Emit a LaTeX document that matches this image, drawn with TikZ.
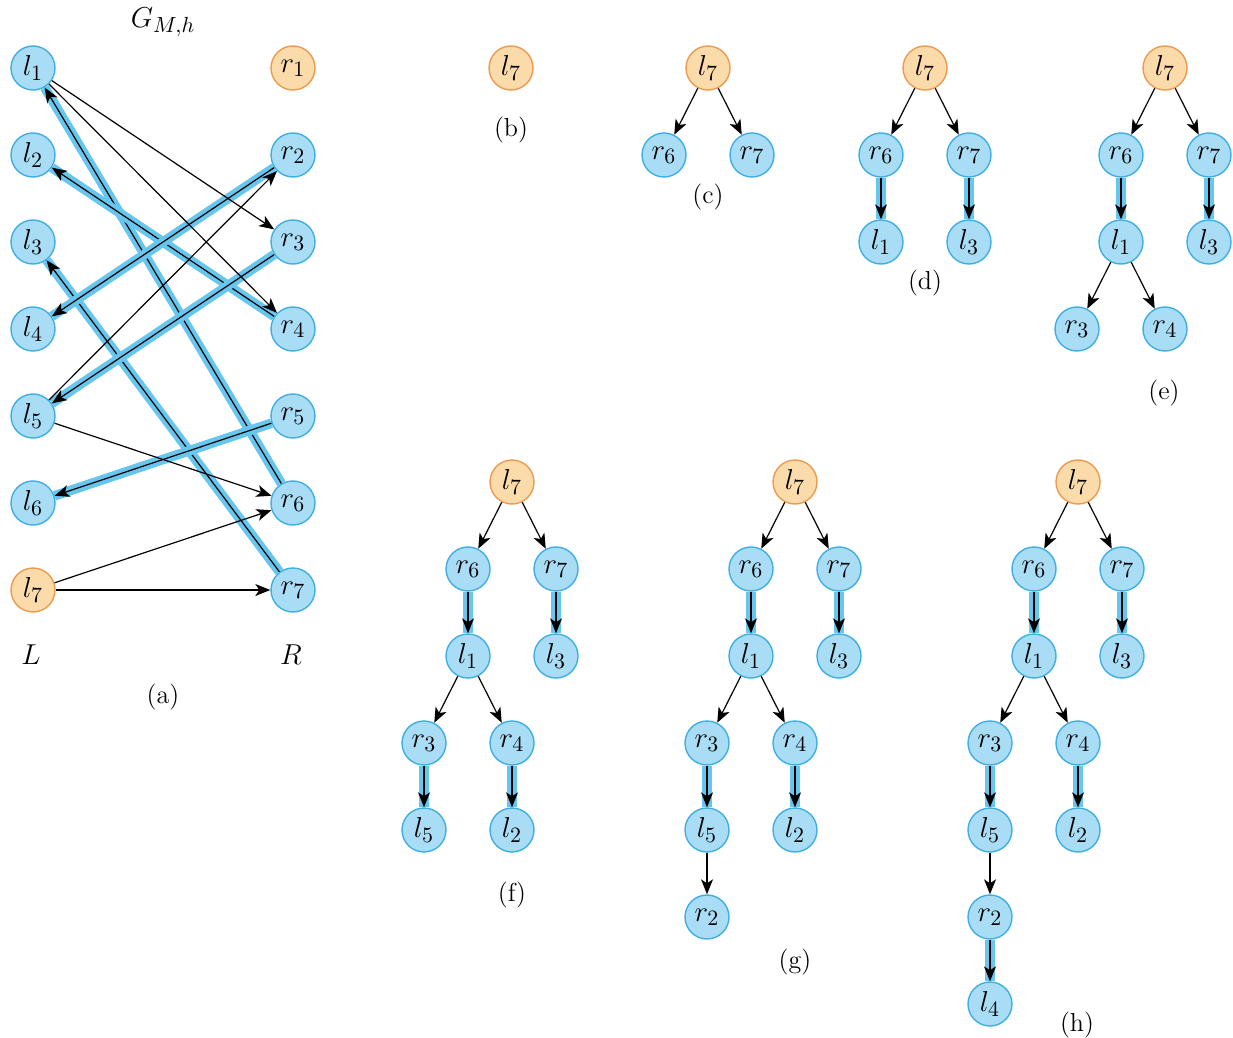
\documentclass[tikz,border=0pt]{standalone}
\usetikzlibrary{arrows.meta, positioning}
\definecolor{cbluefill}{HTML}{A9DDF5}
\definecolor{cblueline}{HTML}{3FAEE2}
\definecolor{cband}{HTML}{66C6EE}
\definecolor{corangefill}{HTML}{FCDBAA}
\definecolor{corangeline}{HTML}{EC9A50}
\tikzset{
  every picture/.style={x=0.5pt, y=-0.5pt},
  vtx/.style={circle, draw=cblueline, fill=cbluefill, line width=0.7pt, minimum size=22pt, inner sep=0pt, font=\fontsize{15}{17}\selectfont},
  root/.style={vtx, draw=corangeline, fill=corangefill},
  arrow/.style={-{Stealth[length=7.5pt, width=6pt, inset=2pt]}, line width=0.6pt},
  matched/.style={arrow, preaction={draw=cband, line width=4.8pt, -}},
  caption/.style={font=\fontsize{13}{15}\selectfont},
}
\begin{document}
\begin{tikzpicture}[node distance=43.5pt and 22pt, on grid]
  \useasboundingbox (0,0) rectangle (1233,1038);
  % (a) the graph G_{M,h}
  \node[font=\fontsize{15}{17}\selectfont] (title) at (163,22) {$G_{M,h}$};
  \foreach \i in {1,...,6} \node[vtx] (l\i) at (33,{68+87*(\i-1)}) {$l_\i$};
  \node[root] (l7) at (33,590) {$l_7$};
  \node[root] (r1) at (293,68) {$r_1$};
  \foreach \i in {2,...,7} \node[vtx] (r\i) at (293,{68+87*(\i-1)}) {$r_\i$};
  \node[font=\fontsize{15}{17}\selectfont] (lL) at (31,655) {$L$};
  \node[font=\fontsize{15}{17}\selectfont] (lR) at (291,655) {$R$};
  \node[caption] (capa) at (163,697) {(a)};
  \draw[matched] (r6) -- (l1);
  \draw[matched] (r4) -- (l2);
  \draw[matched] (r7) -- (l3);
  \draw[matched] (r2) -- (l4);
  \draw[matched] (r3) -- (l5);
  \draw[matched] (r5) -- (l6);
  \draw[arrow] (l1) -- (r3); \draw[arrow] (l1) -- (r4);
  \draw[arrow] (l5) -- (r2); \draw[arrow] (l5) -- (r6);
  \draw[arrow] (l7) -- (r6); \draw[arrow] (l7) -- (r7);

  % (b)
  \node[root] (b7) at (511,68) {$l_7$};
  \node[caption] (capb) at (511,130) {(b)};

  % (c)
  \node[root] (c7) at (708,68) {$l_7$};
  \node[vtx, below left=of c7] (cr6) {$r_6$};
  \node[vtx, below right=of c7] (cr7) {$r_7$};
  \draw[arrow] (c7) -- (cr6); \draw[arrow] (c7) -- (cr7);
  \node[caption] (capc) at (708,197) {(c)};

  % (d)
  \node[root] (d7) at (925,68) {$l_7$};
  \node[vtx, below left=of d7] (dr6) {$r_6$};
  \node[vtx, below right=of d7] (dr7) {$r_7$};
  \node[vtx, below=of dr6] (dl1) {$l_1$};
  \node[vtx, below=of dr7] (dl3) {$l_3$};
  \draw[arrow] (d7) -- (dr6); \draw[arrow] (d7) -- (dr7);
  \draw[matched] (dr6) -- (dl1); \draw[matched] (dr7) -- (dl3);
  \node[caption] (capd) at (925,283) {(d)};

  % (e)
  \node[root] (e7) at (1165,68) {$l_7$};
  \node[vtx, below left=of e7] (er6) {$r_6$};
  \node[vtx, below right=of e7] (er7) {$r_7$};
  \node[vtx, below=of er6] (el1) {$l_1$};
  \node[vtx, below=of er7] (el3) {$l_3$};
  \node[vtx, below left=of el1] (er3) {$r_3$};
  \node[vtx, below right=of el1] (er4) {$r_4$};
  \draw[arrow] (e7) -- (er6); \draw[arrow] (e7) -- (er7);
  \draw[matched] (er6) -- (el1); \draw[matched] (er7) -- (el3);
  \draw[arrow] (el1) -- (er3); \draw[arrow] (el1) -- (er4);
  \node[caption] (cape) at (1164,393) {(e)};

  % (f)
  \node[root] (f7) at (512,482) {$l_7$};
  \node[vtx, below left=of f7] (fr6) {$r_6$};
  \node[vtx, below right=of f7] (fr7) {$r_7$};
  \node[vtx, below=of fr6] (fl1) {$l_1$};
  \node[vtx, below=of fr7] (fl3) {$l_3$};
  \node[vtx, below left=of fl1] (fr3) {$r_3$};
  \node[vtx, below right=of fl1] (fr4) {$r_4$};
  \node[vtx, below=of fr3] (fl5) {$l_5$};
  \node[vtx, below=of fr4] (fl2) {$l_2$};
  \draw[arrow] (f7) -- (fr6); \draw[arrow] (f7) -- (fr7);
  \draw[matched] (fr6) -- (fl1); \draw[matched] (fr7) -- (fl3);
  \draw[arrow] (fl1) -- (fr3); \draw[arrow] (fl1) -- (fr4);
  \draw[matched] (fr3) -- (fl5); \draw[matched] (fr4) -- (fl2);
  \node[caption] (capf) at (512,895) {(f)};

  % (g)
  \node[root] (g7) at (795,482) {$l_7$};
  \node[vtx, below left=of g7] (gr6) {$r_6$};
  \node[vtx, below right=of g7] (gr7) {$r_7$};
  \node[vtx, below=of gr6] (gl1) {$l_1$};
  \node[vtx, below=of gr7] (gl3) {$l_3$};
  \node[vtx, below left=of gl1] (gr3) {$r_3$};
  \node[vtx, below right=of gl1] (gr4) {$r_4$};
  \node[vtx, below=of gr3] (gl5) {$l_5$};
  \node[vtx, below=of gr4] (gl2) {$l_2$};
  \node[vtx, below=of gl5] (gr2) {$r_2$};
  \draw[arrow] (g7) -- (gr6); \draw[arrow] (g7) -- (gr7);
  \draw[matched] (gr6) -- (gl1); \draw[matched] (gr7) -- (gl3);
  \draw[arrow] (gl1) -- (gr3); \draw[arrow] (gl1) -- (gr4);
  \draw[matched] (gr3) -- (gl5); \draw[matched] (gr4) -- (gl2);
  \draw[arrow] (gl5) -- (gr2);
  \node[caption] (capg) at (795,962) {(g)};

  % (h)
  \node[root] (h7) at (1078,482) {$l_7$};
  \node[vtx, below left=of h7] (hr6) {$r_6$};
  \node[vtx, below right=of h7] (hr7) {$r_7$};
  \node[vtx, below=of hr6] (hl1) {$l_1$};
  \node[vtx, below=of hr7] (hl3) {$l_3$};
  \node[vtx, below left=of hl1] (hr3) {$r_3$};
  \node[vtx, below right=of hl1] (hr4) {$r_4$};
  \node[vtx, below=of hr3] (hl5) {$l_5$};
  \node[vtx, below=of hr4] (hl2) {$l_2$};
  \node[vtx, below=of hl5] (hr2) {$r_2$};
  \node[vtx, below=of hr2] (hl4) {$l_4$};
  \draw[arrow] (h7) -- (hr6); \draw[arrow] (h7) -- (hr7);
  \draw[matched] (hr6) -- (hl1); \draw[matched] (hr7) -- (hl3);
  \draw[arrow] (hl1) -- (hr3); \draw[arrow] (hl1) -- (hr4);
  \draw[matched] (hr3) -- (hl5); \draw[matched] (hr4) -- (hl2);
  \draw[arrow] (hl5) -- (hr2); \draw[matched] (hr2) -- (hl4);
  \node[caption] (caph) at (1077,1025) {(h)};
\end{tikzpicture}
\end{document}
